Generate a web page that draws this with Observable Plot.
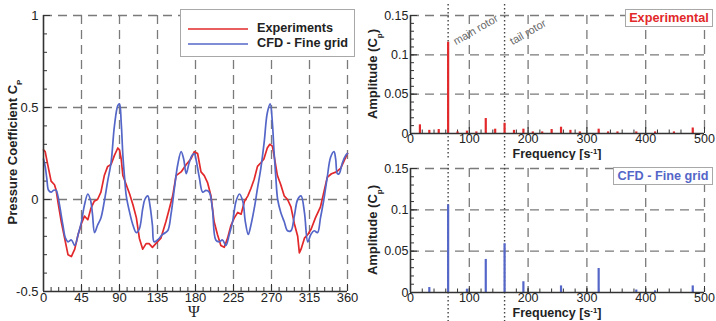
<!DOCTYPE html>
<html><head><meta charset="utf-8">
<script src="https://cdn.jsdelivr.net/npm/d3@7"></script>
<script src="https://cdn.jsdelivr.net/npm/@observablehq/plot@0.6"></script>
<style>
body{margin:0;background:#fff;font-family:"Liberation Sans",Arial,sans-serif}
#wrap{position:relative;width:716px;height:321px;overflow:hidden;background:#fff}
#wrap > *{position:absolute}
.box{background:#fff;border:1px solid #a8a8a8;box-sizing:border-box;font-weight:bold;font-size:12.7px}
</style></head><body><div id="wrap"></div>
<script>
// ---------- Data ----------
const psiExp = [0,2,5,9,13,15,17,21,25,29,33,37,41,45,48.5,52.5,56,60,64,68,72,76,80,84,88,90,92,94,98,102,106,110,113.5,117.5,121.5,125,129,133,139,145,149,153,157,163,169,174.5,178.6,182.5,186.5,190.4,194.4,198.3,202,206,210,214,218,222,226,230,234,238,242,245.6,249.5,253.4,257.4,261,265,268,271,273,277,281,285,289,293,297,301,303,305,309,313,317,322,328,332,336,341,347,352,358,360];
const cpExp = [0.27,0.26,0.19,0.10,0.08,0.05,-0.01,-0.12,-0.21,-0.30,-0.31,-0.27,-0.19,-0.13,-0.09,-0.11,-0.05,-0.01,0.00,0.04,0.13,0.18,0.19,0.24,0.28,0.27,0.22,0.13,0.08,0.03,-0.03,-0.10,-0.21,-0.27,-0.24,-0.24,-0.26,-0.24,-0.21,-0.12,-0.05,0.02,0.13,0.15,0.19,0.22,0.26,0.25,0.15,0.13,0.09,0.02,-0.12,-0.19,-0.25,-0.26,-0.21,-0.14,-0.10,-0.07,-0.08,-0.01,0.02,0.06,0.11,0.18,0.20,0.22,0.28,0.30,0.29,0.24,0.13,0.08,0.02,0.00,-0.04,-0.13,-0.20,-0.29,-0.27,-0.21,-0.19,-0.16,-0.10,-0.04,0.04,0.12,0.14,0.15,0.17,0.23,0.25];
const psiCfd = [0,2,4,6,9,12,15,17,19,23,26,29,33,37,41,45,48.5,52.5,56,58,60.5,64,68,72,76,80,84,88,90,92,94,96,98,102,106,110,113.5,117.5,120,123.5,126,129,131,135,141,147,151,155,159,163,166,169,172.5,176,178.6,180.5,184.5,188.5,192.4,196.3,200,204,208,212,216,220,224,228,232,236,239,242.5,245.6,249.5,253.4,257.4,261.3,265,268.5,271,273,275,277.3,281,285,289,293,297,301,305,309,313,316.6,320.5,324.5,328,332,336,340,344,346,348,350,354,358,360];
const cpCfd = [0.22,0.18,0.11,0.05,0.04,0.05,0.05,0.02,-0.03,-0.14,-0.21,-0.23,-0.22,-0.25,-0.19,-0.12,-0.03,0.03,-0.01,-0.08,-0.18,-0.14,-0.10,-0.01,0.10,0.20,0.40,0.51,0.52,0.42,0.24,0.12,0.02,-0.07,-0.14,-0.18,-0.16,-0.05,0.00,0.02,-0.03,-0.14,-0.23,-0.22,-0.19,-0.17,-0.08,0.06,0.19,0.26,0.22,0.14,0.20,0.24,0.25,0.22,0.12,0.04,0.05,0.04,-0.05,-0.22,-0.23,-0.22,-0.25,-0.19,-0.12,-0.01,0.03,-0.01,-0.12,-0.19,-0.14,-0.05,0.06,0.17,0.31,0.47,0.52,0.42,0.26,0.13,0.00,-0.07,-0.12,-0.17,-0.17,-0.09,0.00,0.02,-0.07,-0.23,-0.19,-0.17,-0.18,-0.10,0.00,0.12,0.23,0.26,0.22,0.14,0.14,0.20,0.24,0.25];
const psiTicks = [0,45,90,135,180,225,270,315,360];
const cpTicks = [-0.5,0,0.5,1];

const freqExp = [16,32,48,64,80,96,112,128,144,160,176,192,208,224,240,256,272,288,320,336,352,384,416,448,480];
const ampExp  = [0.011,0.004,0.005,0.116,0.002,0.003,0.002,0.019,0.0055,0.013,0.004,0.0055,0.002,0.002,0.005,0.008,0.004,0.002,0.0055,0.002,0.002,0.002,0.002,0.002,0.007];
const freqCfd = [32,64,96,128,160,192,256,320,384,416,480];
const ampCfd  = [0.006,0.106,0.004,0.040,0.059,0.013,0.008,0.029,0.003,0.002,0.008];
const freqTicks = [0,100,200,300,400,500];
const ampTicks = [0,0.05,0.1,0.15];
const rotorFreqs = [64,160];
const rotorLabels = ["main rotor","tail rotor"];
const seriesNames = ["Experiments","CFD - Fine grid"];

// ---------- Styles ----------
const RED = "#e2282a", BLUE = "#5466c8", GRID = "#7a7a7a", AX = "#333";
const FONT = "'Liberation Sans', Arial, Helvetica, sans-serif";
const gridOpt = {stroke: GRID, strokeWidth: 1.3, strokeDasharray: "9,6"};
const wrap = document.getElementById("wrap");
const NS = "http://www.w3.org/2000/svg";

function place(el, left, top) { el.style.left = left + "px"; el.style.top = top + "px"; wrap.appendChild(el); }

function addText(svg, {x, y, rotate = 0, parts, size = 13, weight = "bold", anchor = "middle", family = FONT}) {
  const t = d3.select(svg).append("text")
    .attr("transform", `translate(${x},${y}) rotate(${rotate})`)
    .attr("text-anchor", anchor).attr("font-size", size).attr("font-weight", weight)
    .attr("font-family", family).attr("fill", "#222");
  for (const p of parts) {
    const s = t.append("tspan").text(p.t);
    if (p.sub) s.attr("baseline-shift", "sub").attr("font-size", size * 0.62);
    if (p.sup) s.attr("baseline-shift", "super").attr("font-size", size * 0.62);
  }
}

// ---------- Left plot ----------
{
  const w = 360, h = 321, ml = 43, mr = 13, mt = 15, mb = 30;
  const fh = h - mt - mb, fw = w - ml - mr;
  const exp = psiExp.map((p, i) => ({psi: p, cp: cpExp[i]}));
  const cfd = psiCfd.map((p, i) => ({psi: p, cp: cpCfd[i]}));
  const svg = Plot.plot({
    width: w, height: h, marginLeft: ml, marginRight: mr, marginTop: mt, marginBottom: mb,
    style: {fontFamily: FONT, fontSize: "13px", color: "#222", background: "transparent"},
    x: {domain: [0, 360]}, y: {domain: [-0.5, 1]},
    marks: [
      Plot.ruleX(psiTicks.slice(1), gridOpt),
      Plot.ruleY([0, 0.5, 1], gridOpt),
      Plot.ruleX(d3.range(0, 361, 9), {stroke: AX, insetTop: fh - 4}),
      Plot.ruleX(psiTicks, {stroke: AX, insetTop: fh - 7}),
      Plot.ruleY(d3.range(-5, 11).map(i => i / 10), {stroke: AX, insetRight: fw - 4}),
      Plot.ruleY(cpTicks, {stroke: AX, insetRight: fw - 7}),
      Plot.line(exp, {x: "psi", y: "cp", stroke: RED, strokeWidth: 1.7}),
      Plot.line(cfd, {x: "psi", y: "cp", stroke: BLUE, strokeWidth: 1.7, curve: "catmull-rom"}),
      Plot.ruleX([0], {stroke: AX, strokeWidth: 1.6}),
      Plot.ruleY([-0.5], {stroke: AX, strokeWidth: 1.6}),
      Plot.axisX(psiTicks, {tickSize: 0, tickPadding: 1, label: null, fontSize: 13}),
      Plot.axisY(cpTicks, {tickSize: 0, tickPadding: 5, label: null, fontSize: 13, tickFormat: d => String(d)})
    ]
  });
  addText(svg, {x: 17, y: 152, rotate: -90, parts: [{t: "Pressure Coefficient C"}, {t: "P", sub: true}]});
  addText(svg, {x: 194, y: 316.5, parts: [{t: "Ψ"}], size: 16, weight: "normal", family: "'Liberation Serif', 'DejaVu Serif', serif"});
  place(svg, 0, 0);

  // legend
  const lg = document.createElement("div");
  lg.className = "box";
  lg.style.width = "175px"; lg.style.height = "48px";
  seriesNames.forEach((name, i) => {
    const sw = document.createElementNS(NS, "svg");
    sw.setAttribute("width", 60); sw.setAttribute("height", 4);
    sw.style.position = "absolute"; sw.style.left = "7px"; sw.style.top = (17 + i * 15) + "px";
    const ln = document.createElementNS(NS, "line");
    ln.setAttribute("x1", 0); ln.setAttribute("x2", 60); ln.setAttribute("y1", 2); ln.setAttribute("y2", 2);
    ln.setAttribute("stroke", i ? BLUE : RED); ln.setAttribute("stroke-width", 1.7);
    sw.appendChild(ln); lg.appendChild(sw);
    const tx = document.createElement("div");
    tx.textContent = name; tx.style.position = "absolute"; tx.style.left = "76px";
    tx.style.top = (11 + i * 15) + "px"; tx.style.color = "#222"; tx.style.whiteSpace = "nowrap";
    lg.appendChild(tx);
  });
  place(lg, 180, 9);
}

// ---------- Right plots ----------
function spectrum({freq, amp, color, top, h, mt, mb, label, titleY}) {
  const w = 356, ml = 50, mr = 12;
  const fh = h - mt - mb, fw = w - ml - mr;
  const bars = freq.map((f, i) => ({f, a: amp[i]}));
  const rot = rotorFreqs.map((f, i) => ({f, label: rotorLabels[i]}));
  const marks = [
    Plot.ruleX(freqTicks.slice(1), gridOpt),
    Plot.ruleY(ampTicks.slice(1), gridOpt),
    Plot.ruleX(rotorFreqs, {stroke: "#444", strokeWidth: 1.4, strokeDasharray: "1.5,2.5", insetTop: -(mt - 4), insetBottom: -mb}),
    Plot.ruleX(d3.range(0, 501, 20), {stroke: AX, insetTop: fh - 3.5}),
    Plot.ruleX(freqTicks, {stroke: AX, insetTop: fh - 6}),
    Plot.ruleY(d3.range(0, 16).map(i => i / 100), {stroke: AX, insetRight: fw - 4}),
    Plot.ruleY(ampTicks, {stroke: AX, insetRight: fw - 7}),
    Plot.ruleX(bars, {x: "f", y1: 0, y2: "a", stroke: color, strokeWidth: 2.2}),
    Plot.ruleX([0], {stroke: AX, strokeWidth: 1.6}),
    Plot.ruleY([0], {stroke: AX, strokeWidth: 1.6}),
    Plot.axisX(freqTicks, {tickSize: 0, tickPadding: 1, label: null, fontSize: 12.5}),
    Plot.axisY(ampTicks, {tickSize: 0, tickPadding: 2, label: null, fontSize: 12.5, tickFormat: d => String(d)})
  ];
  if (top === 0) marks.push(Plot.text(rot, {x: "f", frameAnchor: "top", dy: 23, dx: 4, text: "label", rotate: -30, textAnchor: "start", fill: "#6a6a6a", fontSize: 11}));
  const svg = Plot.plot({
    width: w, height: h, marginLeft: ml, marginRight: mr, marginTop: mt, marginBottom: mb,
    style: {fontFamily: FONT, fontSize: "12.5px", color: "#222", background: "transparent"},
    x: {domain: [0, 500]}, y: {domain: [0, 0.15]},
    marks
  });
  addText(svg, {x: 17, y: mt + fh / 2, rotate: -90, parts: [{t: "Amplitude (C"}, {t: "p", sub: true}, {t: ")"}]});
  addText(svg, {x: ml + fw / 2, y: titleY, size: 12.5, parts: [{t: "Frequency [s"}, {t: "-1", sup: true}, {t: "]"}]});
  place(svg, 360, top);
  const bx = document.createElement("div");
  bx.className = "box";
  bx.textContent = label; bx.style.color = color;
  bx.style.width = (label.length > 13 ? 100 : 88) + "px"; bx.style.height = "18px";
  bx.style.textAlign = "center"; bx.style.lineHeight = "16px";
  place(bx, label.length > 13 ? 613 : 625, top === 0 ? 9 : 167);
}
spectrum({freq: freqExp, amp: ampExp, color: RED, top: 0, h: 160, mt: 15, mb: 27, label: "Experimental", titleY: 158});
spectrum({freq: freqCfd, amp: ampCfd, color: BLUE, top: 160, h: 161, mt: 8, mb: 29, label: "CFD - Fine grid", titleY: 157});
</script></body></html>
